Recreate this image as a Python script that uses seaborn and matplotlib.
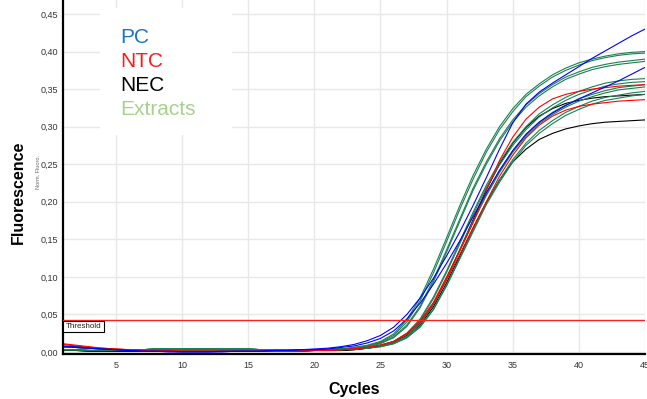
import pandas as pd
import matplotlib
import matplotlib.pyplot as plt
import seaborn as sns
from matplotlib.patches import Rectangle
from matplotlib.ticker import FuncFormatter

matplotlib.use('Agg')

cycles = list(range(1, 46))
threshold = 0.043

# cycles 1-22 (baseline)
pc_base_1 = [0.008, 0.007, 0.005, 0.004, 0.003, 0.002, 0.001, 0.001, 0.000, 0.000, 0.000,
             0.000, 0.000, 0.001, 0.001, 0.001, 0.002, 0.002, 0.003, 0.004, 0.005, 0.007]
pc_base_2 = [0.007, 0.006, 0.005, 0.004, 0.003, 0.002, 0.001, 0.001, 0.001, 0.000, 0.000,
             0.000, 0.001, 0.001, 0.001, 0.001, 0.002, 0.002, 0.003, 0.003, 0.004, 0.006]
ntc_base_1 = [0.011, 0.009, 0.007, 0.005, 0.004, 0.003, 0.002, 0.002, 0.002, 0.001, 0.001,
              0.001, 0.001, 0.001, 0.001, 0.001, 0.001, 0.001, 0.002, 0.002, 0.002, 0.003]
ntc_base_2 = [0.010, 0.008, 0.006, 0.005, 0.004, 0.003, 0.002, 0.002, 0.001, 0.001, 0.001,
              0.001, 0.001, 0.001, 0.001, 0.001, 0.001, 0.001, 0.001, 0.002, 0.002, 0.003]
nec_base = [0.002, 0.002, 0.001, 0.001, 0.001, 0.001, 0.001, 0.001, 0.001, 0.001, 0.001,
            0.001, 0.001, 0.001, 0.001, 0.001, 0.001, 0.001, 0.001, 0.002, 0.002, 0.002]
ext_base_hi = [0.007, 0.006, 0.005, 0.004, 0.003, 0.003, 0.003, 0.004, 0.004, 0.004, 0.004,
               0.004, 0.004, 0.004, 0.004, 0.003, 0.003, 0.003, 0.002, 0.003, 0.003, 0.004]
ext_base_lo = [0.003, 0.003, 0.002, 0.002, 0.002, 0.002, 0.003, 0.003, 0.003, 0.003, 0.003,
               0.003, 0.003, 0.003, 0.002, 0.002, 0.002, 0.002, 0.002, 0.002, 0.003, 0.003]

# cycles 23-45 (amplification)
pc_rise_1 = [0.010, 0.015, 0.022, 0.033, 0.050, 0.072, 0.098, 0.128, 0.160, 0.195, 0.232, 0.270,
             0.305, 0.330, 0.346, 0.358, 0.369, 0.380, 0.391, 0.401, 0.411, 0.421, 0.430]
pc_rise_2 = [0.008, 0.012, 0.018, 0.028, 0.044, 0.065, 0.090, 0.118, 0.148, 0.180, 0.212, 0.242,
             0.268, 0.290, 0.306, 0.318, 0.328, 0.337, 0.345, 0.353, 0.361, 0.370, 0.379]
ntc_rise_1 = [0.004, 0.006, 0.009, 0.014, 0.025, 0.041, 0.066, 0.100, 0.135, 0.172, 0.215, 0.255,
              0.286, 0.310, 0.326, 0.337, 0.343, 0.347, 0.350, 0.352, 0.354, 0.355, 0.356]
ntc_rise_2 = [0.004, 0.006, 0.009, 0.014, 0.024, 0.040, 0.064, 0.096, 0.130, 0.165, 0.200, 0.234,
              0.262, 0.285, 0.302, 0.314, 0.322, 0.327, 0.330, 0.332, 0.334, 0.335, 0.336]
nec_rise_1 = [0.003, 0.005, 0.008, 0.013, 0.022, 0.038, 0.064, 0.098, 0.136, 0.176, 0.216, 0.250,
              0.278, 0.299, 0.314, 0.324, 0.331, 0.335, 0.338, 0.340, 0.341, 0.342, 0.343]
nec_rise_2 = [0.003, 0.005, 0.008, 0.012, 0.021, 0.036, 0.060, 0.092, 0.128, 0.165, 0.199, 0.229,
              0.253, 0.270, 0.283, 0.291, 0.297, 0.301, 0.304, 0.306, 0.307, 0.308, 0.309]
ext_rise = {
    'A1': [0.006, 0.009, 0.014, 0.024, 0.043, 0.072, 0.110, 0.152, 0.195, 0.235, 0.270, 0.300,
           0.324, 0.343, 0.357, 0.369, 0.378, 0.385, 0.390, 0.394, 0.397, 0.399, 0.400],
    'A2': [0.006, 0.008, 0.013, 0.022, 0.040, 0.068, 0.105, 0.147, 0.190, 0.230, 0.266, 0.296,
           0.320, 0.340, 0.354, 0.366, 0.375, 0.382, 0.388, 0.392, 0.395, 0.397, 0.398],
    'B1': [0.005, 0.008, 0.012, 0.020, 0.036, 0.061, 0.096, 0.136, 0.177, 0.218, 0.253, 0.284,
           0.309, 0.329, 0.344, 0.356, 0.366, 0.373, 0.379, 0.383, 0.386, 0.388, 0.390],
    'B2': [0.005, 0.007, 0.011, 0.019, 0.034, 0.059, 0.093, 0.133, 0.174, 0.215, 0.250, 0.281,
           0.306, 0.326, 0.341, 0.353, 0.363, 0.370, 0.376, 0.380, 0.383, 0.385, 0.387],
    'C1': [0.004, 0.006, 0.009, 0.014, 0.025, 0.044, 0.073, 0.108, 0.147, 0.186, 0.222, 0.253,
           0.279, 0.300, 0.317, 0.329, 0.339, 0.347, 0.353, 0.358, 0.361, 0.363, 0.364],
    'C2': [0.004, 0.006, 0.009, 0.014, 0.024, 0.042, 0.071, 0.106, 0.144, 0.183, 0.219, 0.249,
           0.275, 0.296, 0.313, 0.325, 0.335, 0.343, 0.349, 0.354, 0.357, 0.359, 0.360],
    'D1': [0.004, 0.005, 0.008, 0.013, 0.021, 0.038, 0.064, 0.098, 0.136, 0.174, 0.210, 0.241,
           0.268, 0.289, 0.306, 0.319, 0.329, 0.337, 0.343, 0.348, 0.352, 0.354, 0.356],
    'D2': [0.004, 0.005, 0.008, 0.012, 0.021, 0.037, 0.063, 0.097, 0.135, 0.173, 0.208, 0.239,
           0.266, 0.287, 0.304, 0.316, 0.326, 0.334, 0.340, 0.345, 0.349, 0.351, 0.353],
    'E1': [0.004, 0.005, 0.007, 0.011, 0.019, 0.034, 0.057, 0.089, 0.125, 0.162, 0.198, 0.229,
           0.256, 0.278, 0.295, 0.308, 0.319, 0.327, 0.334, 0.339, 0.342, 0.345, 0.347],
    'E2': [0.004, 0.005, 0.007, 0.011, 0.019, 0.033, 0.056, 0.088, 0.124, 0.160, 0.196, 0.226,
           0.253, 0.275, 0.291, 0.304, 0.315, 0.323, 0.330, 0.335, 0.338, 0.341, 0.343],
}

curves = {
    'PC 1': ('PC', pc_base_1 + pc_rise_1),
    'PC 2': ('PC', pc_base_2 + pc_rise_2),
    'NTC 1': ('NTC', ntc_base_1 + ntc_rise_1),
    'NTC 2': ('NTC', ntc_base_2 + ntc_rise_2),
    'NEC 1': ('NEC', nec_base + nec_rise_1),
    'NEC 2': ('NEC', nec_base + nec_rise_2),
}
for i, (name, rise) in enumerate(ext_rise.items()):
    base = ext_base_hi if i % 2 == 0 else ext_base_lo
    curves['Extract ' + name] = ('Extracts', base + rise)

rows = []
for sample, (group, values) in curves.items():
    for c, v in zip(cycles, values):
        rows.append({'sample': sample, 'group': group, 'cycle': c, 'fluorescence': v})
df = pd.DataFrame(rows)

line_colors = {'Extracts': '#1b7f50', 'NTC': '#ff0000', 'NEC': '#000000', 'PC': '#0000ff'}
label_colors = {'PC': '#1874cd', 'NTC': '#ff1a1a', 'NEC': '#000000', 'Extracts': '#a9d18e'}

sns.set_theme(style='whitegrid')
plt.rcParams['font.family'] = ['Liberation Sans', 'DejaVu Sans']

fig = plt.figure(figsize=(6.47, 3.99), dpi=100)
ax = fig.add_axes([63 / 647, 45 / 399, 582 / 647, 354 / 399])

# black drawn first so it hides under the other curves near the baseline
sns.lineplot(data=df, x='cycle', y='fluorescence', hue='group', units='sample', estimator=None,
             hue_order=['NEC', 'Extracts', 'NTC', 'PC'], palette=line_colors,
             linewidth=0.8, legend=False, ax=ax)

ax.axhline(threshold, color='#ff2020', linewidth=1.0, zorder=3)
ax.text(1.2, threshold - 0.0045, 'Threshold', fontsize=5.8, color='#222222', va='top', ha='left',
        bbox=dict(boxstyle='square,pad=0.28', fc='white', ec='black', lw=0.8), zorder=4)

ax.set_xlim(1, 45)
ax.set_ylim(-0.0027, 0.4687)
ax.set_xticks([5, 10, 15, 20, 25, 30, 35, 40, 45])
ax.set_yticks([0.0, 0.05, 0.10, 0.15, 0.20, 0.25, 0.30, 0.35, 0.40, 0.45])
ax.yaxis.set_major_formatter(FuncFormatter(lambda v, p: f'{v:.2f}'.replace('.', ',')))
ax.tick_params(axis='x', length=0, pad=5, labelsize=6.5, labelcolor='#333333')
ax.tick_params(axis='y', length=3, width=0.8, color='#555555', pad=0.5, labelsize=6.5,
               labelcolor='#333333')
ax.grid(True, color='#e8e8e8', linewidth=1.0)
ax.set_facecolor('white')
for side in ['top', 'right']:
    ax.spines[side].set_visible(False)
for side in ['left', 'bottom']:
    ax.spines[side].set_color('black')
    ax.spines[side].set_linewidth(1.6)

ax.set_xlabel('Cycles', fontsize=11.5, fontweight='bold', color='black', va='center')
ax.xaxis.set_label_coords(0.5, -0.099)
ax.set_ylabel('Fluorescence', fontsize=11.5, fontweight='bold', color='black', va='center')
ax.yaxis.set_label_coords(-0.0775, 0.456)
fig.text(39 / 647, 1 - 172 / 399, 'Norm. Fluoro.', rotation=90, fontsize=4, color='#666666',
         ha='center', va='center')

# white box behind the legend text
ax.add_patch(Rectangle((100 / 647, 1 - 135 / 399), 132 / 647, 127 / 399, transform=fig.transFigure,
                       facecolor='white', edgecolor='none', zorder=1.5, clip_on=False))
legend_rows = [('PC', 43), ('NTC', 67), ('NEC', 91), ('Extracts', 115)]
for label, base_y in legend_rows:
    fig.text(120 / 647, 1 - base_y / 399, label, color=label_colors[label], fontsize=15,
             ha='left', va='baseline')

fig.savefig('out.png', dpi=100)
plt.close(fig)
